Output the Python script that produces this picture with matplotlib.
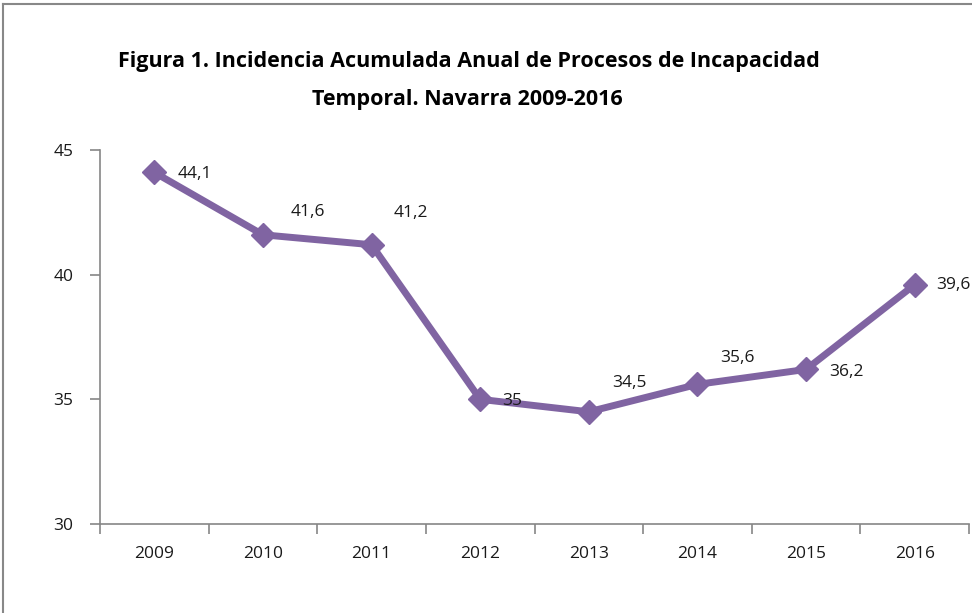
import matplotlib.pyplot as plt
from matplotlib.lines import Line2D
import numpy as np

years = ['2009', '2010', '2011', '2012', '2013', '2014', '2015', '2016']
values = [44.1, 41.6, 41.2, 35.0, 34.5, 35.6, 36.2, 39.6]
labels = ['44,1', '41,6', '41,2', '35', '34,5', '35,6', '36,2', '39,6']
# label offsets in pixels (dx, dy) from each point
label_offsets = [(23, -2), (28, 23), (22, 32), (22, -2), (23, 29), (23, 26), (23, -3), (21, 0)]

plt.rcParams['font.family'] = ['Open Sans', 'DejaVu Sans']

fig = plt.figure(figsize=(9.72, 6.13), dpi=100)
ax = fig.add_axes([100 / 972, 1 - 524 / 613, 869 / 972, 374 / 613])

x = np.arange(len(years))
purple = '#8064A2'
ax.plot(x, values, color=purple, lw=5, marker='D', ms=12, zorder=3, clip_on=False)

for xi, v, lab, (dx, dy) in zip(x, values, labels, label_offsets):
    ax.annotate(lab, (xi, v), xytext=(dx, dy), textcoords='offset pixels',
                ha='left', va='center', fontsize=12.5, color='#1a1a1a',
                zorder=5, annotation_clip=False)

ax.set_xlim(-0.5, len(years) - 0.5)
ax.set_ylim(30, 45)
ax.set_yticks([30, 35, 40, 45])
ax.set_xticks(x)
ax.set_xticklabels(years)
ax.set_xticks(np.arange(-0.5, len(years)), minor=True)
ax.tick_params(axis='x', which='major', length=0, pad=16, labelsize=12.5, labelcolor='#1a1a1a')
ax.tick_params(axis='x', which='minor', length=7, width=1.2, color='#868686')
ax.tick_params(axis='y', length=7, width=1.2, color='#868686', pad=12, labelsize=12.5, labelcolor='#1a1a1a')

for s in ['top', 'right']:
    ax.spines[s].set_visible(False)
for s in ['left', 'bottom']:
    ax.spines[s].set_color('#868686')
    ax.spines[s].set_linewidth(1.2)

fig.text(469 / 972, 1 - 62 / 613, 'Figura 1. Incidencia Acumulada Anual de Procesos de Incapacidad',
         ha='center', va='center', fontsize=15.5, fontweight='bold')
fig.text(467 / 972, 1 - 100 / 613, 'Temporal. Navarra 2009-2016',
         ha='center', va='center', fontsize=15.5, fontweight='bold')

# outer chart border (only top and left visible)
fig.add_artist(Line2D([3 / 972, 3 / 972], [0, 1 - 4 / 613], transform=fig.transFigure, color='#888888', lw=1.5))
fig.add_artist(Line2D([3 / 972, 1], [1 - 4 / 613, 1 - 4 / 613], transform=fig.transFigure, color='#888888', lw=1.5))

fig.savefig('out.png', dpi=100)
